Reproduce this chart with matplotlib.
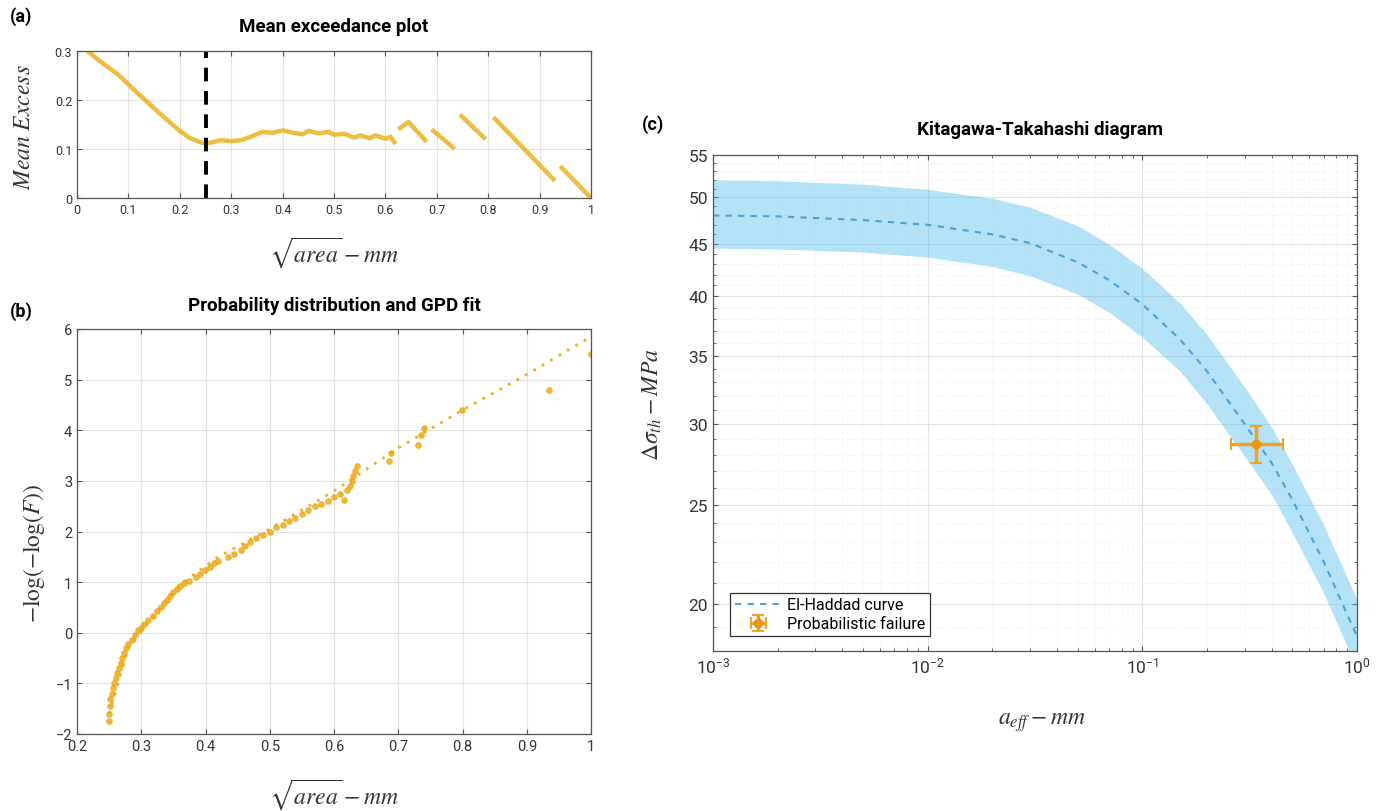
import numpy as np
import matplotlib
matplotlib.use("Agg")
import matplotlib.pyplot as plt
from matplotlib.ticker import FixedLocator, NullFormatter, LogLocator

# ---- datos ----
# (a) mean excess
me_x = [0.02, 0.05, 0.08, 0.10, 0.12, 0.15, 0.18, 0.20, 0.22, 0.24, 0.25, 0.26, 0.28, 0.30,
        0.32, 0.33, 0.35, 0.36, 0.38, 0.40, 0.42, 0.44, 0.45, 0.47, 0.49, 0.50, 0.52,
        0.54, 0.55, 0.57, 0.58, 0.60, 0.61, 0.62, np.nan,
        0.625, 0.645, 0.68, np.nan,
        0.69, 0.735, np.nan,
        0.745, 0.795, np.nan,
        0.81, 0.93, np.nan,
        0.94, 1.0]
me_y = [0.300, 0.275, 0.252, 0.232, 0.212, 0.183, 0.155, 0.137, 0.122, 0.114, 0.111, 0.113, 0.118, 0.116,
        0.118, 0.122, 0.130, 0.135, 0.133, 0.138, 0.133, 0.130, 0.137, 0.132, 0.135, 0.129, 0.131,
        0.123, 0.128, 0.122, 0.128, 0.121, 0.125, 0.110, np.nan,
        0.140, 0.155, 0.115, np.nan,
        0.140, 0.100, np.nan,
        0.170, 0.120, np.nan,
        0.165, 0.035, np.nan,
        0.065, 0.0]
threshold = 0.25

# (b) probability plot
pts_x = [0.250, 0.250, 0.251, 0.252, 0.254, 0.256, 0.258, 0.260, 0.263, 0.266, 0.268, 0.270,
         0.273, 0.276, 0.280, 0.285, 0.290, 0.295, 0.300, 0.305, 0.310, 0.318, 0.325, 0.330,
         0.335, 0.340, 0.345, 0.350, 0.355, 0.360, 0.367, 0.375, 0.385, 0.392, 0.400, 0.407,
         0.414, 0.420, 0.435, 0.445, 0.455, 0.462, 0.470, 0.478, 0.490, 0.500, 0.510, 0.520,
         0.530, 0.540, 0.550, 0.560, 0.570, 0.580, 0.590, 0.600, 0.610, 0.615, 0.620, 0.625,
         0.628, 0.630, 0.633, 0.636, 0.685, 0.688, 0.730, 0.735, 0.740, 0.800, 0.935, 1.000]
pts_y = [-1.75, -1.60, -1.45, -1.30, -1.20, -1.10, -1.00, -0.90, -0.80, -0.70, -0.60, -0.50,
         -0.40, -0.30, -0.22, -0.15, -0.05, 0.05, 0.10, 0.18, 0.25, 0.33, 0.42, 0.50,
         0.58, 0.65, 0.72, 0.80, 0.87, 0.93, 0.98, 1.03, 1.10, 1.17, 1.23, 1.30,
         1.37, 1.42, 1.50, 1.55, 1.63, 1.72, 1.80, 1.87, 1.93, 2.00, 2.08, 2.13,
         2.20, 2.27, 2.35, 2.42, 2.50, 2.55, 2.60, 2.68, 2.75, 2.62, 2.82, 2.90,
         3.00, 3.10, 3.20, 3.30, 3.40, 3.55, 3.70, 3.90, 4.05, 4.40, 4.80, 5.50]
fit_x = [0.25, 0.28, 0.32, 0.36, 0.42, 0.50, 0.60, 0.70, 0.80, 0.90, 1.00]
fit_y = [-1.60, -0.30, 0.35, 0.95, 1.50, 2.05, 2.80, 3.65, 4.40, 5.10, 5.85]

# (c) Kitagawa-Takahashi
a_eff = [1e-3, 2e-3, 5e-3, 1e-2, 2e-2, 3e-2, 5e-2, 7e-2, 0.1, 0.15, 0.2, 0.3, 0.4, 0.5, 0.7, 1.0]
dsig = [48.0, 47.9, 47.5, 47.0, 46.0, 45.1, 43.2, 41.5, 39.3, 36.3, 33.8, 30.0, 27.5, 25.3, 22.0, 18.6]
dsig_up = [52.0, 51.9, 51.5, 50.9, 49.9, 48.9, 46.9, 45.0, 42.6, 39.4, 36.7, 32.6, 29.8, 27.4, 23.9, 20.2]
dsig_lo = [44.6, 44.5, 44.2, 43.7, 42.8, 41.9, 40.2, 38.6, 36.5, 33.8, 31.4, 27.9, 25.6, 23.5, 20.5, 17.3]
fail_a = [0.34]
fail_s = [28.7]
fail_aerr = [[0.08], [0.11]]
fail_serr = [[1.2], [1.2]]

ORANGE = "#EDB120"
BLUE = "#4DBEEE"
W, H = 1386, 812

plt.rcParams["font.family"] = ["Roboto", "DejaVu Sans"]
plt.rcParams["mathtext.fontset"] = "stix"


def box(l, t, r, b):
    return [l / W, 1 - b / H, (r - l) / W, (b - t) / H]


def matlab_style(ax, fs=9.5):
    for s in ax.spines.values():
        s.set_color("#555555")
        s.set_linewidth(0.9)
    ax.tick_params(which="both", direction="in", top=True, right=True,
                   labelsize=fs, colors="#555555", labelcolor="#333333")
    ax.grid(True, color="#e3e3e3", lw=0.8)
    ax.set_axisbelow(True)


fig = plt.figure(figsize=(W / 100, H / 100), dpi=100)

# ---- (a) ----
ax1 = fig.add_axes(box(77, 52, 591, 199))
ax1.plot(me_x, me_y, color=ORANGE, lw=3.2, alpha=0.85, solid_capstyle="butt")
ax1.axvline(threshold, color="black", lw=2.8, ls=(0, (3.5, 2.5)))
ax1.set_xlim(0, 1)
ax1.set_ylim(0, 0.3)
ax1.set_xticks(np.arange(0, 1.01, 0.1))
ax1.set_xticklabels(["0", "0.1", "0.2", "0.3", "0.4", "0.5", "0.6", "0.7", "0.8", "0.9", "1"])
ax1.set_yticks([0, 0.1, 0.2, 0.3])
ax1.set_yticklabels(["0", "0.1", "0.2", "0.3"])
matlab_style(ax1, 9)

# ---- (b) ----
ax2 = fig.add_axes(box(77, 330, 591, 735))
ax2.plot(fit_x, fit_y, color=ORANGE, lw=2, ls=(0, (1, 2.5)))
ax2.plot(pts_x, pts_y, "o", color="#EBA816", ms=4.8, alpha=0.85, mew=0)
ax2.set_xlim(0.2, 1)
ax2.set_ylim(-2, 6)
ax2.set_xticks(np.arange(0.2, 1.01, 0.1))
ax2.set_xticklabels(["0.2", "0.3", "0.4", "0.5", "0.6", "0.7", "0.8", "0.9", "1"])
ax2.set_yticks(range(-2, 7))
matlab_style(ax2, 10.5)

# ---- (c) ----
ax3 = fig.add_axes(box(713, 156, 1357, 652))
ax3.set_xscale("log")
ax3.set_yscale("log")
ax3.fill_between(a_eff, dsig_lo, dsig_up, color=BLUE, alpha=0.42, lw=0)
ax3.plot(a_eff, dsig, color="#4AA3DA", lw=1.5, ls=(0, (3, 3)), label="El-Haddad curve")
ax3.errorbar(fail_a, fail_s, xerr=fail_aerr, yerr=fail_serr, fmt="o", color="#F0A224",
             ecolor="#F0A224", ms=6, mfc="#E8960E", mec="#E8960E", lw=2.5, capsize=4,
             capthick=1.5, label="Probabilistic failure")
ax3.set_xlim(1e-3, 1)
ax3.set_ylim(18, 55)
ax3.yaxis.set_major_locator(FixedLocator([20, 25, 30, 35, 40, 45, 50, 55]))
ax3.yaxis.set_minor_locator(FixedLocator([v for v in range(18, 56) if v % 5]))
ax3.yaxis.set_minor_formatter(NullFormatter())
ax3.set_yticklabels(["20", "25", "30", "35", "40", "45", "50", "55"])
ax3.xaxis.set_minor_locator(LogLocator(base=10, subs=np.arange(2, 10)))
matlab_style(ax3, 12.5)
ax3.grid(True, which="minor", color="#ececec", lw=0.6, ls=":")
leg = ax3.legend(loc="lower left", bbox_to_anchor=(0.026, 0.03), borderaxespad=0,
                 fancybox=False, framealpha=1, edgecolor="#333333", fontsize=11.5,
                 handlelength=3, handletextpad=0.3, borderpad=0.3, labelspacing=0.25)
leg.get_frame().set_linewidth(0.9)

# ---- textos ----
def ftext(x, y, s, **kw):
    fig.text(x / W, 1 - y / H, s, **kw)

ftext(10, 17, "(a)", fontsize=13, fontweight="bold", va="center")
ftext(10, 312, "(b)", fontsize=13, fontweight="bold", va="center")
ftext(642, 125, "(c)", fontsize=13, fontweight="bold", va="center")

ftext(334, 27, "Mean exceedance plot", fontsize=13.5, fontweight="bold", ha="center", va="center")
ftext(334, 306, "Probability distribution and GPD fit", fontsize=13.5, fontweight="bold",
      ha="center", va="center")
ftext(1040, 130, "Kitagawa-Takahashi diagram", fontsize=13.5, fontweight="bold",
      ha="center", va="center")

lab = dict(color="#333333", ha="center", va="center")
ftext(334, 253, r"$\sqrt{area} - mm$", fontsize=17, **lab)
ftext(334, 795, r"$\sqrt{area} - mm$", fontsize=17, **lab)
ftext(1042, 723, r"$a_{eff} - mm$", fontsize=17, **lab)
ftext(24, 127, r"$Mean\ Excess$", fontsize=17, rotation=90, **lab)
ftext(34, 553, r"$-\log(-\log(F))$", fontsize=17, rotation=90, **lab)
ftext(652, 404, r"$\Delta\sigma_{th} - MPa$", fontsize=17, rotation=90, **lab)

fig.savefig("out.png", dpi=100)
